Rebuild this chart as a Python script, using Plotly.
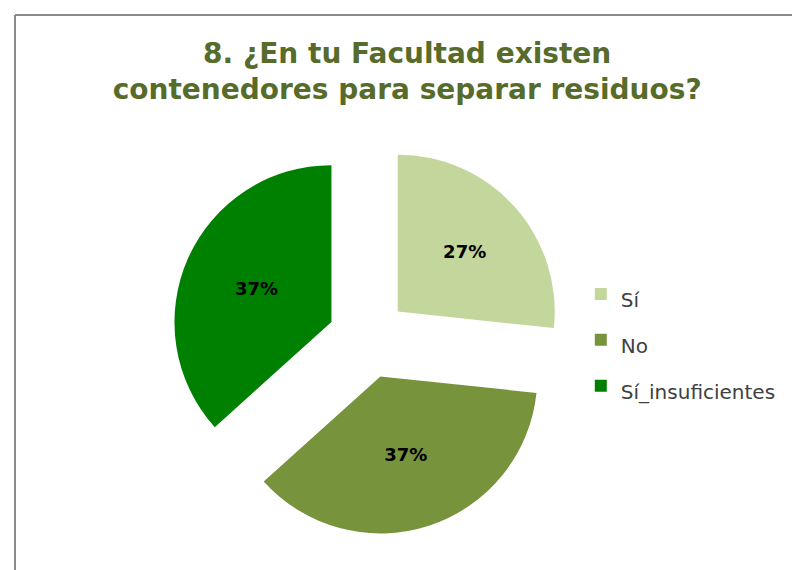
import plotly.graph_objects as go

labels = ["Sí", "No", "Sí_insuficientes"]
counts = [8, 11, 11]
colors = ["#C3D69B", "#77933C", "#008000"]
title_lines = ["8. ¿En tu Facultad existen", "contenedores para separar residuos?"]

W, H = 800, 570

fig = go.Figure()
fig.add_trace(go.Pie(
    labels=[f"<span style='font-size:20px'>{l}</span>" for l in labels],
    values=counts,
    sort=False,
    direction="clockwise",
    rotation=0,
    pull=[0.255, 0.255, 0.255],
    marker=dict(colors=colors, line=dict(width=0)),
    texttemplate="%{percent:.0%}",
    textposition="inside",
    insidetextorientation="horizontal",
    textfont=dict(family="DejaVu Sans", size=18, color="#000000", weight="bold"),
    domain=dict(x=[163 / W, 557 / W], y=[1 - 527.4 / H, 1 - 133.4 / H]),
    hoverinfo="label+percent",
))

fig.update_layout(
    width=W, height=H,
    margin=dict(l=0, r=0, t=0, b=0),
    paper_bgcolor="white",
    title=dict(
        text="<br>".join(title_lines),
        x=0.499, xanchor="center",
        y=1 - 55 / H, yanchor="top",
        font=dict(family="DejaVu Sans", size=28, color="#576B2B", weight="bold"),
    ),
    legend=dict(
        x=0.716, xanchor="left",
        y=1 - 258 / H, yanchor="top",
        font=dict(family="DejaVu Sans", size=33, color="#404040"),
        bgcolor="rgba(0,0,0,0)",
    ),
    showlegend=True,
    shapes=[
        dict(type="line", xref="paper", yref="paper",
             x0=7 / W, x1=7 / W, y0=0, y1=1 - 7 / H,
             line=dict(color="#8A8A8A", width=2)),
        dict(type="line", xref="paper", yref="paper",
             x0=7 / W, x1=1, y0=1 - 7 / H, y1=1 - 7 / H,
             line=dict(color="#8A8A8A", width=2)),
    ],
)

fig.write_html("out.html")
